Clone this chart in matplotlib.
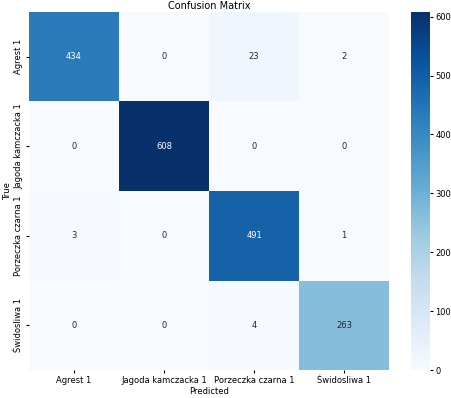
import numpy as np
import matplotlib.pyplot as plt
import seaborn as sns

labels = ["Agrest 1", "Jagoda kamczacka 1", "Porzeczka czarna 1", "Świdosliwa 1"]
row_agrest = [434, 0, 23, 2]
row_jagoda = [0, 608, 0, 0]
row_porzeczka = [3, 0, 491, 1]
row_swidosliwa = [0, 0, 4, 263]

cm = np.array([row_agrest, row_jagoda, row_porzeczka, row_swidosliwa])

fig = plt.figure(figsize=(4.52, 3.98), dpi=100)
ax = fig.add_axes([0.064, 0.070, 0.797, 0.900])
cax = fig.add_axes([0.909, 0.070, 0.042, 0.900])

sns.heatmap(cm, annot=True, fmt="d", cmap="Blues", ax=ax, cbar_ax=cax,
            xticklabels=labels, yticklabels=labels,
            annot_kws={"fontsize": 6})

ax.set_title("Confusion Matrix", fontsize=7, pad=2)
ax.set_xlabel("Predicted", fontsize=6, labelpad=2)
ax.set_ylabel("True", fontsize=6, labelpad=2)
ax.tick_params(axis="both", labelsize=6, length=2, pad=2)
plt.setp(ax.get_xticklabels(), rotation=0)
plt.setp(ax.get_yticklabels(), rotation=90, va="center")
cax.tick_params(labelsize=6, length=2, pad=2)

fig.savefig("out.png", dpi=100)
